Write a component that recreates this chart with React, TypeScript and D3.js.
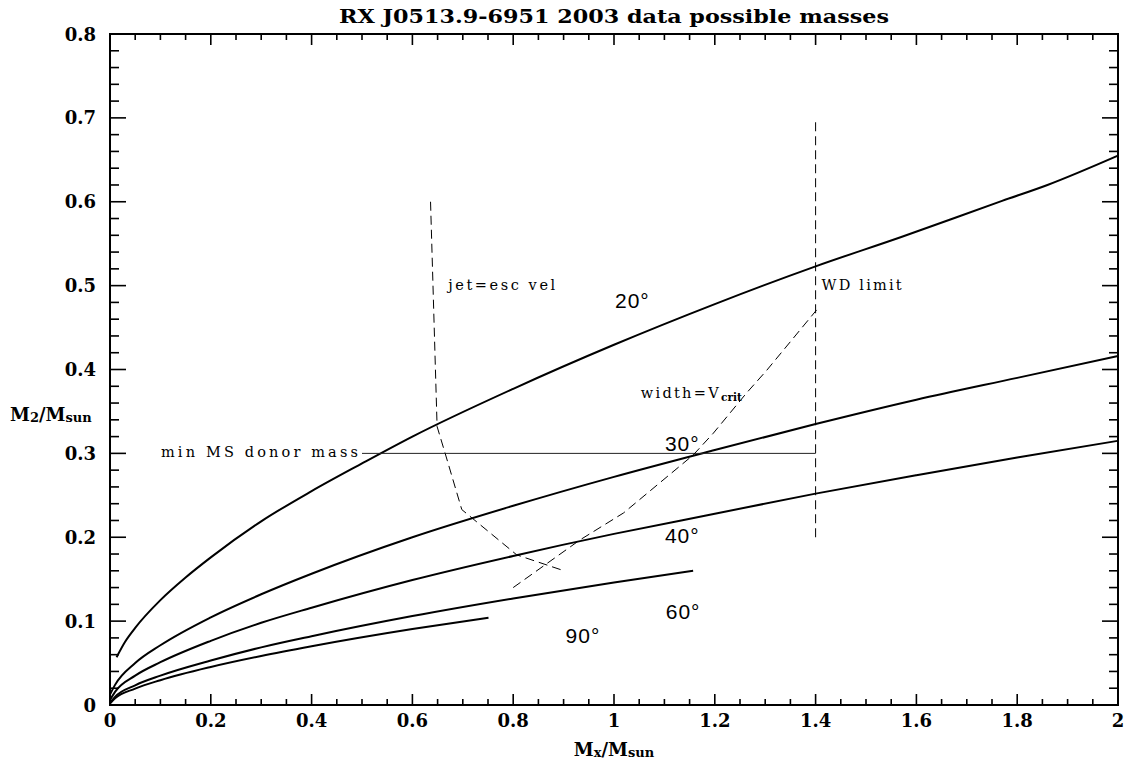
import React from "react";
import * as d3 from "d3";

// ---- data ----
const curve20: [number, number][] = [
  [0.013, 0.057], [0.03, 0.0755], [0.05, 0.092], [0.1, 0.125], [0.15, 0.152],
  [0.2, 0.176], [0.3, 0.219], [0.4, 0.255], [0.5, 0.288], [0.6, 0.32],
  [0.8, 0.377], [1.0, 0.4295], [1.2, 0.478], [1.4, 0.523], [1.57, 0.558],
  [1.77, 0.601], [1.86, 0.62], [2.0, 0.655],
];
const curve30: [number, number][] = [
  [0.0, 0.0124], [0.01, 0.024], [0.05, 0.05], [0.1, 0.0712], [0.2, 0.1045],
  [0.3, 0.132], [0.4, 0.1565], [0.6, 0.2], [0.8, 0.2375], [1.0, 0.272],
  [1.2, 0.304], [1.4, 0.335], [1.6, 0.364], [1.8, 0.39], [2.0, 0.416],
];
const curve40: [number, number][] = [
  [0.0, 0.006], [0.01, 0.0157], [0.05, 0.035], [0.1, 0.051], [0.2, 0.0765],
  [0.3, 0.098], [0.4, 0.116], [0.6, 0.149], [0.8, 0.1777], [1.0, 0.204],
  [1.2, 0.228], [1.4, 0.252], [1.6, 0.274], [1.8, 0.295], [2.0, 0.315],
];
const curve60: [number, number][] = [
  [0.0, 0.0024], [0.01, 0.0097], [0.05, 0.0235], [0.1, 0.035], [0.2, 0.053],
  [0.3, 0.0687], [0.4, 0.082], [0.6, 0.106], [0.8, 0.127], [1.0, 0.146],
  [1.157, 0.16],
];
const curve90: [number, number][] = [
  [0.0, 0.0016], [0.01, 0.0079], [0.05, 0.0195], [0.1, 0.0296], [0.2, 0.0454],
  [0.3, 0.0585], [0.4, 0.07], [0.6, 0.0905], [0.751, 0.104],
];
const jetEscVel: [number, number][] = [
  [0.636, 0.6], [0.649, 0.332], [0.665, 0.3], [0.698, 0.233], [0.807, 0.179], [0.901, 0.16],
];
const widthVcrit: [number, number][] = [
  [0.8, 0.14], [0.933, 0.197], [1.019, 0.229], [1.157, 0.298], [1.197, 0.324],
  [1.263, 0.372], [1.303, 0.399], [1.402, 0.471],
];
const wdLimit: [number, number][] = [[1.4, 0.2], [1.4, 0.7]];
const minMSDonor: [number, number][] = [[0.5, 0.3], [1.4, 0.3]];

const xTickValues = [0, 0.2, 0.4, 0.6, 0.8, 1, 1.2, 1.4, 1.6, 1.8, 2];
const xTickLabels = ["0", "0.2", "0.4", "0.6", "0.8", "1", "1.2", "1.4", "1.6", "1.8", "2"];
const yTickValues = [0, 0.1, 0.2, 0.3, 0.4, 0.5, 0.6, 0.7, 0.8];
const yTickLabels = ["0", "0.1", "0.2", "0.3", "0.4", "0.5", "0.6", "0.7", "0.8"];

const W = 1130;
const H = 769;

export default function App() {
  const x = d3.scaleLinear().domain([0, 2]).range([110, 1118]);
  const y = d3.scaleLinear().domain([0, 0.8]).range([705, 34]);
  const line = d3
    .line<[number, number]>()
    .x((d) => x(d[0]))
    .y((d) => y(d[1]));
  const smooth = d3
    .line<[number, number]>()
    .x((d) => x(d[0]))
    .y((d) => y(d[1]))
    .curve(d3.curveMonotoneX);

  const xMinor = d3.range(0, 2.0001, 0.05).map((v) => +v.toFixed(3));
  const yMinor = d3.range(0, 0.8001, 0.02).map((v) => +v.toFixed(3));
  const isMajorX = (v: number) => Math.abs(v / 0.2 - Math.round(v / 0.2)) < 1e-6;
  const isMajorY = (v: number) => Math.abs(v / 0.1 - Math.round(v / 0.1)) < 1e-6;

  const serif = "'DejaVu Serif', 'Liberation Serif', serif";
  const sans = "'Liberation Sans', 'DejaVu Sans', sans-serif";
  const [x0, x1] = x.range();
  const [y0, y1] = y.range();

  return (
    <svg width={W} height={H} style={{ position: "absolute", left: 0, top: 0, background: "#fff" }}>
      <rect x={0} y={0} width={W} height={H} fill="#fff" />
      {/* title */}
      <text x={(x0 + x1) / 2} y={23} textAnchor="middle" fontFamily={serif} fontWeight="bold"
        fontSize={18} textLength={550} lengthAdjust="spacingAndGlyphs">
        RX J0513.9-6951 2003 data possible masses
      </text>

      {/* ticks */}
      <g stroke="#000" strokeWidth={1.6}>
        {xMinor.map((v) => {
          const L = isMajorX(v) ? 11 : 6;
          return (
            <g key={"xt" + v}>
              <line x1={x(v)} x2={x(v)} y1={y0} y2={y0 - L} />
              <line x1={x(v)} x2={x(v)} y1={y1} y2={y1 + L} />
            </g>
          );
        })}
        {yMinor.map((v) => {
          const L = isMajorY(v) ? 16 : 9;
          return (
            <g key={"yt" + v}>
              <line x1={x0} x2={x0 + L} y1={y(v)} y2={y(v)} />
              <line x1={x1} x2={x1 - L} y1={y(v)} y2={y(v)} />
            </g>
          );
        })}
      </g>
      {/* frame */}
      <rect x={x0} y={y1} width={x1 - x0} height={y0 - y1} fill="none" stroke="#000" strokeWidth={2} />

      {/* tick labels */}
      <g fontFamily={serif} fontWeight="bold" fontSize={18} fill="#000">
        {xTickValues.map((v, i) => (
          <text key={"xl" + v} x={x(v)} y={y0 + 22} textAnchor="middle">
            {xTickLabels[i]}
          </text>
        ))}
        {yTickValues.map((v, i) => (
          <text key={"yl" + v} x={x0 - 14} y={y(v) + 6.5} textAnchor="end">
            {yTickLabels[i]}
          </text>
        ))}
      </g>

      {/* axis labels */}
      <text x={10} y={421} fontFamily={serif} fontWeight="bold" fontSize={18}>
        M<tspan fontSize={13} dy={1}>2</tspan>
        <tspan fontSize={18} dy={-1}>/M</tspan>
        <tspan fontSize={13} dy={1}>sun</tspan>
      </text>
      <text x={(x0 + x1) / 2} y={756} textAnchor="middle" fontFamily={serif} fontWeight="bold" fontSize={18}>
        M<tspan fontSize={13} dy={1}>x</tspan>
        <tspan fontSize={18} dy={-1}>/M</tspan>
        <tspan fontSize={13} dy={1}>sun</tspan>
      </text>

      {/* curves */}
      <g fill="none" stroke="#000" strokeWidth={2} strokeLinejoin="round">
        <path d={smooth(curve20) || ""} />
        <path d={smooth(curve30) || ""} />
        <path d={smooth(curve40) || ""} />
        <path d={smooth(curve60) || ""} />
        <path d={smooth(curve90) || ""} />
      </g>
      <path d={line(minMSDonor) || ""} fill="none" stroke="#222" strokeWidth={1} />
      <g fill="none" stroke="#000" strokeWidth={1} strokeDasharray="9,5">
        <path d={line(jetEscVel) || ""} />
        <path d={line(widthVcrit) || ""} />
        <path d={line(wdLimit) || ""} />
      </g>

      {/* annotations */}
      <g fontFamily={serif} fontSize={14.5} fill="#000">
        <text x={x(0.492)} y={y(0.3) + 4} textAnchor="end" textLength={197} lengthAdjust="spacing">
          min MS donor mass
        </text>
        <text x={x(0.671)} y={y(0.4946)} textLength={107} lengthAdjust="spacing">
          jet=esc vel
        </text>
        <text x={x(1.4) + 6} y={y(0.4946)} textLength={80} lengthAdjust="spacing">
          WD limit
        </text>
        <text x={x(1.053)} y={y(0.3656)}>
          <tspan textLength={78} lengthAdjust="spacing">width=V</tspan>
          <tspan fontSize={10.5} fontWeight="bold" dy={3}>crit</tspan>
        </text>
      </g>
      <g fontFamily={sans} fontSize={21} fill="#000" letterSpacing={1}>
        <text x={x(1.002)} y={y(0.473)}>20°</text>
        <text x={x(1.101)} y={y(0.303)}>30°</text>
        <text x={x(1.101)} y={y(0.1934)}>40°</text>
        <text x={x(1.1026)} y={y(0.1025)}>60°</text>
        <text x={x(0.904)} y={y(0.0735)}>90°</text>
      </g>
    </svg>
  );
}
